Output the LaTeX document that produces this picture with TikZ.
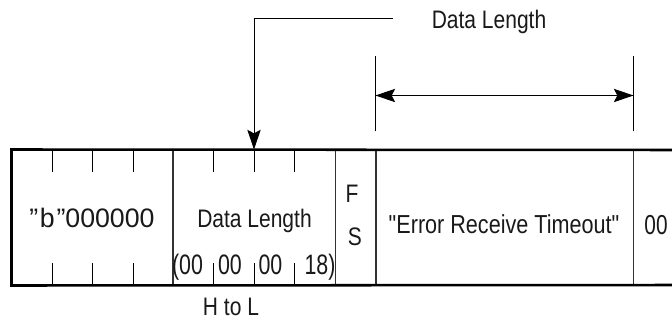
\documentclass[tikz,border=0pt]{standalone}
\usepackage{fontspec}
\setmainfont{Liberation Sans}
\newfontfamily\narrowfont[FakeStretch=0.83]{Liberation Sans}
\newfontfamily\tightfont[FakeStretch=0.76]{Liberation Sans}
\usetikzlibrary{positioning}
\usetikzlibrary{calc}
\usetikzlibrary{arrows.meta}

\tikzset{
    field/.style={draw=black!80, line width=0.7pt, minimum height=3.375cm, inner sep=0pt},
    frame/.style={line width=1.8pt},
    tick/.style={line width=0.6pt},
    txt/.style={anchor=base, inner sep=0pt, text=black!90, font=\narrowfont\fontsize{18}{21}\selectfont},
    ptr/.style={line width=0.7pt, -{Stealth[length=14pt,width=9.5pt,inset=2.5pt]}},
    dimline/.style={line width=0.7pt, {Stealth[length=14pt,width=9.5pt,inset=2.5pt]}-{Stealth[length=14pt,width=9.5pt,inset=2.5pt]}},
}

\begin{document}
\begin{tikzpicture}[x=0.025cm, y=-0.025cm]
    \useasboundingbox (0,0) rectangle (672,322);
    %fields
    \node[field, minimum width=4.025cm] at (92.5,217.5) (hdr) {};
    \node[field, minimum width=4.05cm] at (254,217.5) (len) {};
    \node[field, minimum width=1.025cm] at (355.5,217.5) (fs) {};
    \node[field, minimum width=6.425cm] at (504.5,217.5) (msg) {};
    %outer frame
    \draw[frame] (672,150) -- (hdr.north west) -- (hdr.south west) -- (672,285);
    %ticks
    \foreach \f in {hdr,len}{
        \foreach \i in {1,2,3}{
            \draw[tick] ($(\f.north west)!\i/4!(\f.north east)$) -- ++(0,23);
            \draw[tick] ($(\f.south west)!\i/4!(\f.south east)$) -- ++(0,-23);
        }
    }
    %field texts
    \node[txt, font=\fontsize{19}{22}\selectfont] at (92,227) (hdrtxt) {"\kern1.2pt b\kern1.2pt"000000};
    \node[txt] at (254.5,227) (lentxt) {Data Length};
    \node[txt] at (352,202) (ftxt) {F};
    \node[txt] at (355,245) (stxt) {S};
    \node[txt, font=\narrowfont\fontsize{18.5}{21}\selectfont] at (504,233) (msgtxt) {"Error Receive Timeout"};
    \node[txt, font=\tightfont\fontsize{19.5}{22}\selectfont] at (656,234) (endtxt) {00};
    %bytes
    \node[txt, font=\tightfont\fontsize{20}{24}\selectfont] at (187.5,274) (b1) {(00};
    \node[txt, font=\tightfont\fontsize{20}{24}\selectfont] at (230,274) (b2) {00};
    \node[txt, font=\tightfont\fontsize{20}{24}\selectfont] at (270.5,274) (b3) {00};
    \node[txt, font=\tightfont\fontsize{20}{24}\selectfont] at (320,274) (b4) {18)};
    \node[txt] at (231,315) (order) {H to L};
    %top label
    \node[txt] at (489,28) (toplbl) {Data Length};
    \coordinate (lblend) at (393,18);
    \draw[ptr] (lblend) -| (len.north);
    %dimension
    \draw[tick] ($(msg.north west)+(0,-18)$) -- ++(0,-75);
    \draw[tick] ($(msg.north east)+(0,-18)$) -- ++(0,-75);
    \coordinate (dimL) at ($(msg.north west)+(0,-54)$);
    \coordinate (dimR) at ($(msg.north east)+(0,-54)$);
    \draw[dimline] (dimL) -- (dimR);
\end{tikzpicture}
\end{document}
